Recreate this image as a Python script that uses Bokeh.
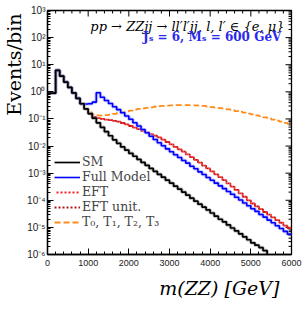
import math
from bokeh.plotting import figure
from bokeh.models import (Range1d, FixedTicker, Label, Legend, LegendItem, ColumnDataSource, Title)
from bokeh.embed import file_html
from bokeh.resources import INLINE

# ---------------- data ----------------
bin_edges = list(range(0, 6001, 100))  # 100 GeV bins, 0..6000 GeV

sm = [0.89, 0.89, 6.2, 3.8, 2.3, 1.45, 0.91, 0.575, 0.363, 0.234,
      0.158, 0.107, 0.072, 0.049, 0.034, 0.024, 0.017, 0.0126, 0.0093, 0.0071,
      5.4e-3, 4.2e-3, 3.2e-3, 2.5e-3, 1.95e-3, 1.5e-3, 1.17e-3, 9.1e-4, 7.1e-4, 5.5e-4,
      4.3e-4, 3.3e-4, 2.6e-4, 2.0e-4, 1.55e-4, 1.2e-4, 9.3e-5, 7.2e-5, 5.6e-5, 4.4e-5,
      3.4e-5, 2.6e-5, 2.0e-5, 1.6e-5, 1.23e-5, 9.5e-6, 7.4e-6, 5.8e-6, 4.5e-6, 3.5e-6,
      2.7e-6, 2.2e-6, 1.8e-6, 1.4e-6, 1e-9, 1e-9, 1e-9, 1e-9, 1e-9, 1e-9]

full_model = [0.89, 0.89, 6.2, 3.8, 2.3, 1.45, 0.91, 0.575, 0.363, 0.355,
              0.363, 0.417, 0.93, 0.63, 0.48, 0.37, 0.28, 0.22, 0.17, 0.129,
              0.098, 0.072, 0.055, 0.041, 0.031, 0.023, 0.0174, 0.0132, 0.0102, 7.9e-3,
              6.2e-3, 4.8e-3, 3.8e-3, 2.95e-3, 2.35e-3, 1.8e-3, 1.45e-3, 1.12e-3, 8.9e-4, 6.9e-4,
              5.5e-4, 4.3e-4, 3.4e-4, 2.7e-4, 2.1e-4, 1.66e-4, 1.29e-4, 1.02e-4, 7.9e-5, 6.3e-5,
              4.9e-5, 3.9e-5, 3.0e-5, 2.4e-5, 1.86e-5, 1.48e-5, 1.15e-5, 9.1e-6, 7.1e-6, 5.6e-6]

eft = [0.89, 0.89, 6.2, 3.8, 2.3, 1.45, 0.91, 0.575, 0.363, 0.234,
       0.151, 0.12, 0.107, 0.1, 0.095, 0.091, 0.085, 0.079, 0.071, 0.063,
       0.055, 0.048, 0.042, 0.036, 0.032, 0.0275, 0.024, 0.021, 0.0174, 0.0141,
       0.0115, 9.3e-3, 7.6e-3, 6.2e-3, 4.9e-3, 3.9e-3, 3.1e-3, 2.45e-3, 1.9e-3, 1.5e-3,
       1.17e-3, 9.1e-4, 7.1e-4, 5.5e-4, 4.2e-4, 3.2e-4, 2.4e-4, 1.8e-4, 1.35e-4, 1.0e-4,
       7.6e-5, 6.0e-5, 4.7e-5, 3.7e-5, 2.95e-5, 2.35e-5, 1.86e-5, 1.48e-5, 1.17e-5, 9.5e-6]

eft_unit = [0.89, 0.89, 6.2, 3.8, 2.3, 1.45, 0.91, 0.575, 0.363, 0.234,
            0.151, 0.12, 0.107, 0.1, 0.095, 0.091, 0.085, 0.079, 0.071, 0.063,
            0.055, 0.048, 0.042, 0.036, 0.032, 0.0275, 0.024, 0.021, 0.0174, 0.0141,
            0.0115, 9.3e-3, 7.6e-3, 6.2e-3, 4.9e-3, 3.9e-3, 3.1e-3, 2.45e-3, 1.9e-3, 1.5e-3,
            1.17e-3, 9.1e-4, 7.1e-4, 5.5e-4, 4.2e-4, 3.2e-4, 2.4e-4, 1.8e-4, 1.35e-4, 1.0e-4,
            7.6e-5, 6.0e-5, 4.7e-5, 3.7e-5, 2.95e-5, 2.35e-5, 1.86e-5, 1.48e-5, 1.17e-5, 9.5e-6]

t_ops = [0.89, 0.89, 6.2, 3.8, 2.3, 1.45, 0.91, 0.575, 0.363, 0.234,
         0.174, 0.145, 0.135, 0.132, 0.138, 0.145, 0.155, 0.166, 0.178, 0.19,
         0.204, 0.219, 0.234, 0.245, 0.257, 0.269, 0.282, 0.295, 0.302, 0.309,
         0.316, 0.324, 0.324, 0.324, 0.324, 0.316, 0.316, 0.309, 0.302, 0.288,
         0.275, 0.263, 0.251, 0.24, 0.224, 0.209, 0.195, 0.182, 0.17, 0.158,
         0.148, 0.135, 0.126, 0.115, 0.105, 0.095, 0.087, 0.079, 0.072, 0.066]

x_ticks = [0, 1000, 2000, 3000, 4000, 5000, 6000]
y_ticks = [1e-6, 1e-5, 1e-4, 1e-3, 1e-2, 1e-1, 1e0, 1e1, 1e2, 1e3]
y_tick_labels = ["10⁻⁶", "10⁻⁵", "10⁻⁴", "10⁻³", "10⁻²", "10⁻¹", "10⁰", "10¹", "10²", "10³"]
series_labels = ["SM", "Full Model", "EFT", "EFT unit.", "T₀, T₁, T₂, T₃"]

x_min, x_max = 0, 6000
y_min, y_max = 1e-6, 1e3

# ---------------- figure ----------------
p = figure(width=306, height=310, y_axis_type="log",
           x_range=Range1d(x_min, x_max), y_range=Range1d(y_min, y_max),
           output_backend="svg", toolbar_location=None,
           min_border_left=46, min_border_right=15, min_border_top=10, min_border_bottom=56)
p.grid.visible = False
p.outline_line_color = "black"
p.outline_line_width = 1.3
p.background_fill_color = "white"
p.border_fill_color = "white"

minor_x = [v for v in range(0, 6001, 200) if v % 1000 != 0]
minor_y = [m * 10.0 ** e for e in range(-6, 3) for m in range(2, 10)]

def style_axis(ax):
    ax.major_tick_in = 6
    ax.major_tick_out = 0
    ax.minor_tick_in = 3
    ax.minor_tick_out = 0
    ax.axis_line_color = "black"
    ax.axis_line_width = 1.3
    ax.major_tick_line_color = "black"
    ax.minor_tick_line_color = "black"
    ax.major_label_text_font = "Liberation Sans"
    ax.major_label_text_color = "#222222"

xa = p.xaxis[0]
xa.ticker = FixedTicker(ticks=x_ticks, minor_ticks=minor_x)
style_axis(xa)
xa.major_label_text_font_size = "9px"
xa.major_label_standoff = 5

ya = p.yaxis[0]
ya.ticker = FixedTicker(ticks=y_ticks, minor_ticks=minor_y)
style_axis(ya)
ya.major_label_text_font_size = "10px"
ya.major_label_standoff = 2
ya.major_label_overrides = {t: l for t, l in zip(y_ticks, y_tick_labels)}

# mirrored inward ticks on the top and right frame edges
p.ray(x=x_ticks, y=[y_max] * len(x_ticks), length=6, length_units="screen",
      angle=-math.pi / 2, line_color="black", line_width=1)
p.ray(x=minor_x, y=[y_max] * len(minor_x), length=3, length_units="screen",
      angle=-math.pi / 2, line_color="black", line_width=1)
p.ray(x=[x_max] * len(y_ticks), y=y_ticks, length=6, length_units="screen",
      angle=math.pi, line_color="black", line_width=1)
p.ray(x=[x_max] * len(minor_y), y=minor_y, length=3, length_units="screen",
      angle=math.pi, line_color="black", line_width=1)

# ---------------- curves ----------------
def src(vals):
    return ColumnDataSource(dict(x=bin_edges, y=list(vals) + [vals[-1]]))

r_t = p.step("x", "y", source=src(t_ops), mode="after", line_color="#ff8c1a",
             line_width=1.8, line_dash="6 3")
r_eu = p.step("x", "y", source=src(eft_unit), mode="after", line_color="#b0181e",
              line_width=1.8, line_dash="2 2")
r_e = p.step("x", "y", source=src(eft), mode="after", line_color="#ff2020",
             line_width=1.8, line_dash="2 2", line_dash_offset=2)
p.step("x", "y", source=src(full_model), mode="after", line_color="#9fa0ff",
       line_width=3.5, line_alpha=0.6)
r_fm = p.step("x", "y", source=src(full_model), mode="after", line_color="#0000ff",
              line_width=1.6)
p.step("x", "y", source=src(sm), mode="after", line_color="#9a9a9a",
       line_width=3.5, line_alpha=0.6)
r_sm = p.step("x", "y", source=src(sm), mode="after", line_color="black",
              line_width=1.7)

legend = Legend(items=[LegendItem(label=l, renderers=[r])
                       for l, r in zip(series_labels, [r_sm, r_fm, r_e, r_eu, r_t])],
                location=(7, 25), padding=0, margin=0, spacing=0,
                label_standoff=2, glyph_width=26, glyph_height=12, label_height=12,
                label_text_font="DejaVu Serif", label_text_font_size="12.5px",
                border_line_alpha=0, background_fill_alpha=0)
p.add_layout(legend)

# ---------------- texts ----------------
serif = "DejaVu Serif"
p.add_layout(Label(x=237, y=228, x_units="screen", y_units="screen",
                   text="pp → ZZjj → ll′l′jj, l, l′ ∈ {e, μ}", text_align="right",
                   text_baseline="middle", text_font=serif, text_font_style="italic",
                   text_font_size="13px", text_color="black"))
p.add_layout(Label(x=238, y=218, x_units="screen", y_units="screen",
                   text="Jₛ = 6,  Mₛ = 600 GeV", text_align="right",
                   text_baseline="middle", text_font=serif, text_font_style="bold",
                   text_font_size="12px", text_color="#2a2aee"))

p.add_layout(Title(text="Events/bin", align="right", offset=3, standoff=0,
                   text_font=serif, text_font_style="normal",
                   text_font_size="19px", text_color="black"), "left")
p.add_layout(Title(text="m(ZZ)  [GeV]", align="right", offset=6, standoff=12,
                   text_font=serif, text_font_style="italic",
                   text_font_size="19px", text_color="black"), "below")

open("out.html", "w").write(file_html(p, INLINE))
